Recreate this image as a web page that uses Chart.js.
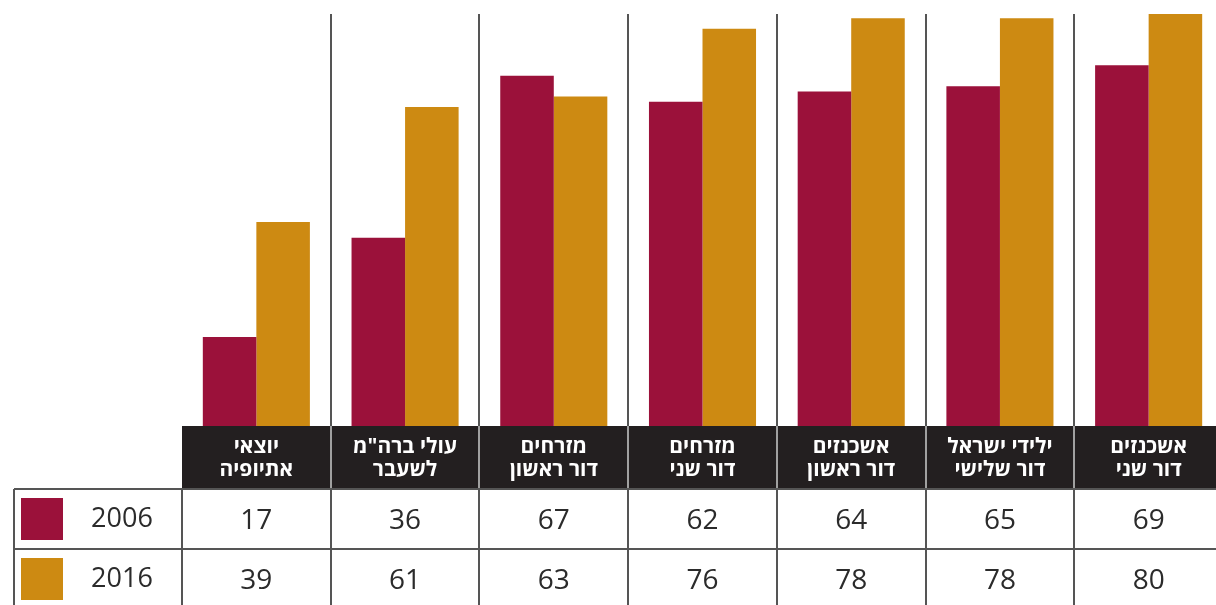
<!DOCTYPE html>
<html lang="he">
<head>
<meta charset="utf-8">
<script src="https://cdn.jsdelivr.net/npm/chart.js@4.4.1/dist/chart.umd.min.js"></script>
<style>
  html, body { margin: 0; padding: 0; background: #fff; overflow: hidden; }
  #wrap { width: 1223px; height: 605px; position: relative; }
</style>
</head>
<body>
<div id="wrap"><canvas id="grafico"></canvas></div>
<script>
// categories, left to right as drawn (the chart reads right to left)
const categorias = [
  ['יוצאי', 'אתיופיה'],
  ['עולי ברה"מ', 'לשעבר'],
  ['מזרחים', 'דור ראשון'],
  ['מזרחים', 'דור שני'],
  ['אשכנזים', 'דור ראשון'],
  ['ילידי ישראל', 'דור שלישי'],
  ['אשכנזים', 'דור שני']
];
const anos = ['2006', '2016'];
const valores2006 = [17, 36, 67, 62, 64, 65, 69];
const valores2016 = [39, 61, 63, 76, 78, 78, 80];

const corVermelho = '#9b113a';
const corLaranja = '#cd8a12';
const fonte = '"Open Sans", "Noto Sans", "DejaVu Sans", sans-serif';

// header band + table under the bars, placed from the x scale
const tabelaPlugin = {
  id: 'tabela',
  afterDraw(chart) {
    const ctx = chart.ctx;
    const area = chart.chartArea;
    const x = chart.scales.x;
    const n = categorias.length;
    const larg = (area.right - area.left) / n;
    const topoCab = area.bottom;
    const fimCab = topoCab + 63;
    const alturaLinha = 60;
    const series = [valores2006, valores2016];
    const cores = [corVermelho, corLaranja];

    ctx.save();

    // separators in the bar area
    ctx.strokeStyle = '#555';
    ctx.lineWidth = 2;
    for (let i = 1; i < n; i++) {
      const bx = Math.round(x.getPixelForValue(i) - larg / 2);
      ctx.beginPath();
      ctx.moveTo(bx, area.top);
      ctx.lineTo(bx, area.bottom);
      ctx.stroke();
    }

    // dark header band
    ctx.fillStyle = '#231f20';
    ctx.fillRect(area.left, topoCab, area.right - area.left, fimCab - topoCab);
    ctx.strokeStyle = '#a0a0a0';
    ctx.lineWidth = 2;
    for (let i = 1; i < n; i++) {
      const bx = Math.round(x.getPixelForValue(i) - larg / 2);
      ctx.beginPath();
      ctx.moveTo(bx, topoCab);
      ctx.lineTo(bx, fimCab);
      ctx.stroke();
    }

    ctx.fillStyle = '#fff';
    ctx.font = 'bold 21px ' + fonte;
    ctx.textAlign = 'center';
    ctx.textBaseline = 'middle';
    ctx.direction = 'rtl';
    categorias.forEach((linhas, i) => {
      const cx = x.getPixelForValue(i);
      ctx.fillText(linhas[0], cx, topoCab + 21);
      ctx.fillText(linhas[1], cx, topoCab + 44);
    });
    ctx.direction = 'ltr';

    // table rows
    const esq = 14;
    ctx.strokeStyle = '#555';
    ctx.lineWidth = 2;
    for (let r = 0; r < 2; r++) {
      const y = fimCab + r * alturaLinha;
      ctx.beginPath();
      ctx.moveTo(esq, y);
      ctx.lineTo(area.right, y);
      ctx.stroke();
    }
    const bordas = [esq, area.left];
    for (let i = 1; i < n; i++) bordas.push(Math.round(x.getPixelForValue(i) - larg / 2));
    bordas.forEach(bx => {
      ctx.beginPath();
      ctx.moveTo(bx, fimCab);
      ctx.lineTo(bx, fimCab + alturaLinha * 2);
      ctx.stroke();
    });

    for (let r = 0; r < 2; r++) {
      const cy = fimCab + r * alturaLinha + alturaLinha / 2;
      ctx.fillStyle = cores[r];
      ctx.fillRect(21, cy - 21, 42, 42);
      ctx.fillStyle = '#2b2b2b';
      ctx.font = '27px ' + fonte;
      ctx.fillText(anos[r], 122, cy);
      ctx.font = '28px ' + fonte;
      series[r].forEach((v, i) => {
        ctx.fillText(String(v), x.getPixelForValue(i), cy + 2);
      });
    }
    ctx.restore();
  }
};

const ctx = document.getElementById('grafico').getContext('2d');
new Chart(ctx, {
  type: 'bar',
  data: {
    labels: categorias,
    datasets: [
      {
        label: anos[0],
        data: valores2006,
        backgroundColor: corVermelho,
        categoryPercentage: 0.72,
        barPercentage: 1
      },
      {
        label: anos[1],
        data: valores2016,
        backgroundColor: corLaranja,
        categoryPercentage: 0.72,
        barPercentage: 1
      }
    ]
  },
  options: {
    responsive: true,
    maintainAspectRatio: false,
    animation: false,
    layout: { padding: { left: 182, top: 14, right: 0, bottom: 179 } },
    scales: {
      x: { display: false },
      y: { display: false, min: 0, max: 78.8 }
    },
    plugins: {
      legend: { display: false },
      tooltip: { enabled: false }
    }
  },
  plugins: [tabelaPlugin]
});
</script>
</body>
</html>
